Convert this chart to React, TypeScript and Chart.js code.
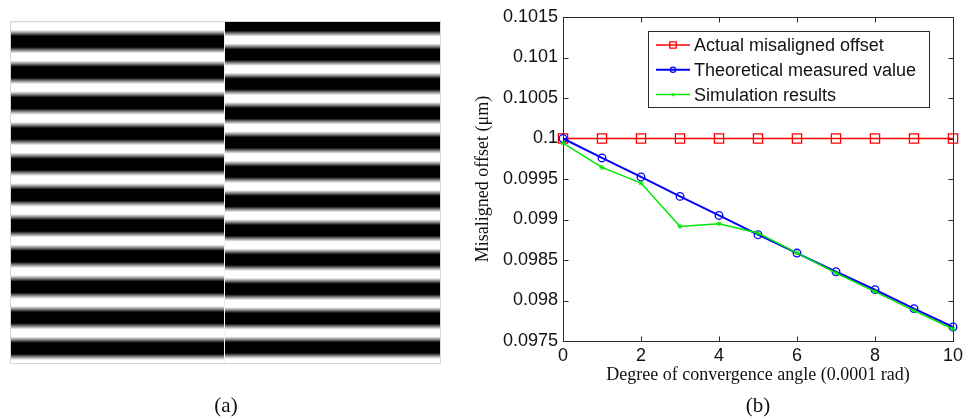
import React, { useEffect, useRef } from 'react';
import { Chart, registerables } from 'chart.js';

Chart.register(...registerables);

// ---------- data ----------
const angles = [0, 1, 2, 3, 4, 5, 6, 7, 8, 9, 10];
const actualOffset = [0.1, 0.1, 0.1, 0.1, 0.1, 0.1, 0.1, 0.1, 0.1, 0.1, 0.1];
const theoreticalValue = [0.1, 0.09976, 0.099525, 0.099285, 0.09905, 0.098812, 0.098586, 0.098355, 0.098133, 0.097899, 0.097673];
const simulationResults = [0.099944, 0.099643, 0.09945, 0.098915, 0.098948, 0.098833, 0.098588, 0.09834, 0.09811, 0.097875, 0.097648];
const seriesLabels = ['Actual misaligned offset', 'Theoretical measured value', 'Simulation results'];

const yMin = 0.0975;
const yMax = 0.1015;
const yStep = 0.0005;
const xMin = 0;
const xMax = 10;
const xStep = 2;

const xTitle = 'Degree of convergence angle (0.0001 rad)';
const yTitle = 'Misaligned offset (\u03bcm)';
const panelLabels = ['(a)', '(b)'];

// fringe picture (panel a): white-band centre and period for each half
const leftFringeFirstWhite = 26.3;
const leftFringePeriod = 30.67;
const rightFringeFirstWhite = 40;
const rightFringePeriod = 29.3;

const SANS = '"Liberation Sans", Arial, sans-serif';
const SERIF = '"Liberation Serif", "Times New Roman", serif';

function fringeGray(y: number, first: number, period: number) {
  const phi = (2 * Math.PI * (y - first)) / period;
  const v = (1 + Math.cos(phi)) / 2;
  let t = (v - 0.28) / 0.6;
  t = Math.max(0, Math.min(1, t));
  return Math.round(255 * t);
}

const fringePlugin = {
  id: 'fringe',
  beforeDraw(chart: any) {
    const ctx = chart.ctx;
    ctx.save();
    ctx.fillStyle = '#ffffff';
    ctx.fillRect(0, 0, chart.width, chart.height);
    const top = 22;
    const bottom = 364;
    for (let y = top; y < bottom; y++) {
      const gl = fringeGray(y + 0.5, leftFringeFirstWhite, leftFringePeriod);
      ctx.fillStyle = `rgb(${gl},${gl},${gl})`;
      ctx.fillRect(11, y, 213, 1);
      const gr = fringeGray(y + 0.5, rightFringeFirstWhite, rightFringePeriod);
      ctx.fillStyle = `rgb(${gr},${gr},${gr})`;
      ctx.fillRect(225, y, 215, 1);
    }
    ctx.fillStyle = 'rgba(160,160,160,0.15)';
    ctx.fillRect(224, top, 1, bottom - top);
    ctx.strokeStyle = '#d6d6d6';
    ctx.lineWidth = 1;
    ctx.strokeRect(10.5, 21.5, 430, 342);
    ctx.restore();
  },
};

const boxPlugin = {
  id: 'matlabBox',
  beforeDatasetsDraw(chart: any) {
    const { ctx, chartArea } = chart;
    const { left, right, top, bottom } = chartArea;
    const xs = chart.scales.x;
    const ys = chart.scales.y;
    ctx.save();
    ctx.strokeStyle = '#2a2a2a';
    ctx.lineWidth = 1;
    const L = Math.round(left) + 0.5;
    const R = Math.round(right) + 0.5;
    const T = Math.round(top) + 0.5;
    const B = Math.round(bottom) + 0.5;
    ctx.strokeRect(L, T, R - L, B - T);
    const tl = 5;
    ctx.beginPath();
    xs.ticks.forEach((t: any) => {
      const px = Math.round(xs.getPixelForValue(t.value)) + 0.5;
      ctx.moveTo(px, B);
      ctx.lineTo(px, B - tl);
      ctx.moveTo(px, T);
      ctx.lineTo(px, T + tl);
    });
    ys.ticks.forEach((t: any) => {
      const py = Math.round(ys.getPixelForValue(t.value)) + 0.5;
      ctx.moveTo(L, py);
      ctx.lineTo(L + tl, py);
      ctx.moveTo(R, py);
      ctx.lineTo(R - tl, py);
    });
    ctx.stroke();
    ctx.restore();
  },
};

function drawMarker(ctx: any, style: string, x: number, y: number, r: number, color: string, lw: number) {
  ctx.save();
  ctx.strokeStyle = color;
  ctx.lineWidth = lw;
  ctx.beginPath();
  if (style === 'rect') {
    const s = Math.SQRT1_2 * r;
    ctx.rect(x - s, y - s, 2 * s, 2 * s);
  } else if (style === 'circle') {
    ctx.arc(x, y, r, 0, Math.PI * 2);
  } else {
    for (let i = 0; i < 4; i++) {
      const a = (i * Math.PI) / 4;
      ctx.moveTo(x - r * Math.cos(a), y - r * Math.sin(a));
      ctx.lineTo(x + r * Math.cos(a), y + r * Math.sin(a));
    }
  }
  ctx.stroke();
  ctx.restore();
}

const legendPlugin = {
  id: 'matlabLegend',
  afterDraw(chart: any) {
    const ctx = chart.ctx;
    ctx.save();
    const bx = 648.5;
    const by = 31.5;
    const bw = 281;
    const bh = 76;
    ctx.fillStyle = '#ffffff';
    ctx.fillRect(bx, by, bw, bh);
    ctx.strokeStyle = '#2a2a2a';
    ctx.lineWidth = 1;
    ctx.strokeRect(bx, by, bw, bh);
    chart.data.datasets.forEach((ds: any, i: number) => {
      const cy = 45 + i * 24.8;
      ctx.strokeStyle = ds.borderColor;
      ctx.lineWidth = ds.borderWidth;
      ctx.beginPath();
      ctx.moveTo(656, cy);
      ctx.lineTo(690, cy);
      ctx.stroke();
      drawMarker(ctx, ds.pointStyle, 673, cy, ds.pointRadius * 0.7, ds.borderColor, ds.pointBorderWidth);
      ctx.fillStyle = '#111111';
      ctx.font = `18px ${SANS}`;
      ctx.textAlign = 'left';
      ctx.textBaseline = 'middle';
      ctx.fillText(ds.label, 694, cy + 1);
    });
    // panel labels
    ctx.fillStyle = '#111111';
    ctx.font = `21px ${SERIF}`;
    ctx.textAlign = 'center';
    ctx.textBaseline = 'middle';
    ctx.fillText(panelLabels[0], 226, 406);
    ctx.fillText(panelLabels[1], 758, 406);
    ctx.restore();
  },
};

export default function App() {
  const ref = useRef<HTMLCanvasElement | null>(null);
  useEffect(() => {
    if (!ref.current) return;
    const pts = (arr: number[]) => angles.map((a, i) => ({ x: a, y: arr[i] }));
    const chart = new Chart(ref.current, {
      type: 'line',
      data: {
        datasets: [
          {
            label: seriesLabels[0],
            data: pts(actualOffset),
            borderColor: '#ff0000',
            borderWidth: 1.5,
            pointStyle: 'rect',
            pointRadius: 6.5,
            pointBorderWidth: 1.3,
            pointBackgroundColor: 'rgba(0,0,0,0)',
            pointBorderColor: '#ff0000',
            backgroundColor: 'rgba(0,0,0,0)',
            clip: false,
            order: 3,
          },
          {
            label: seriesLabels[1],
            data: pts(theoreticalValue),
            borderColor: '#0000ff',
            borderWidth: 2,
            pointStyle: 'circle',
            pointRadius: 3.8,
            pointBorderWidth: 1.3,
            pointBackgroundColor: 'rgba(0,0,0,0)',
            pointBorderColor: '#0000ff',
            backgroundColor: 'rgba(0,0,0,0)',
            clip: false,
            order: 2,
          },
          {
            label: seriesLabels[2],
            data: pts(simulationResults),
            borderColor: '#00e600',
            borderWidth: 1.5,
            pointStyle: 'star',
            pointRadius: 2.5,
            pointBorderWidth: 1,
            pointBackgroundColor: '#00e600',
            pointBorderColor: '#00e600',
            backgroundColor: 'rgba(0,0,0,0)',
            clip: false,
            order: 1,
          },
        ],
      },
      options: {
        responsive: false,
        animation: false,
        devicePixelRatio: 1,
        layout: { padding: { left: 472, right: 13, top: 17, bottom: 31 } },
        plugins: {
          legend: { display: false },
          tooltip: { enabled: false },
        },
        scales: {
          x: {
            type: 'linear',
            min: xMin,
            max: xMax,
            grid: { display: false, drawTicks: false, tickLength: 0 },
            border: { display: false },
            ticks: {
              stepSize: xStep,
              padding: 4,
              maxRotation: 0,
              color: '#111111',
              font: { family: SANS, size: 18 },
            },
            title: {
              display: true,
              text: xTitle,
              color: '#111111',
              padding: 0,
              font: { family: SERIF, size: 18 },
            },
            afterFit: (s: any) => {
              s.height = 45;
            },
          },
          y: {
            type: 'linear',
            min: yMin,
            max: yMax,
            grid: { display: false, drawTicks: false, tickLength: 0 },
            border: { display: false },
            ticks: {
              stepSize: yStep,
              padding: 5,
              color: '#111111',
              font: { family: SANS, size: 18 },
              callback: (v: any) => parseFloat(Number(v).toFixed(4)).toString(),
            },
            title: {
              display: true,
              text: yTitle,
              color: '#111111',
              padding: 0,
              font: { family: SERIF, size: 18 },
            },
            afterFit: (s: any) => {
              s.width = 91;
            },
          },
        },
      } as any,
      plugins: [fringePlugin, boxPlugin, legendPlugin],
    });
    return () => chart.destroy();
  }, []);
  return (
    <div style={{ position: 'absolute', left: 0, top: 0, width: 967, height: 417 }}>
      <canvas ref={ref} width={967} height={417} style={{ display: 'block' }} />
    </div>
  );
}
